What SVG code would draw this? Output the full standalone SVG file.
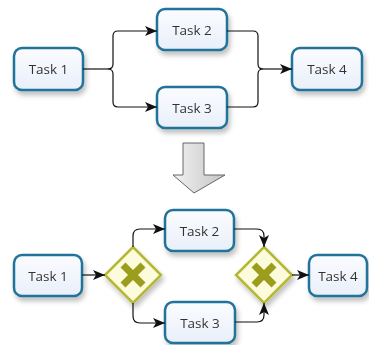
<svg xmlns="http://www.w3.org/2000/svg" width="369" height="345" viewBox="0 0 369 345">
<defs>
<linearGradient id="boxfill" x1="0" y1="0" x2="0" y2="1">
<stop offset="0" stop-color="#fbfcff"/>
<stop offset="1" stop-color="#e9eff9"/>
</linearGradient>
<linearGradient id="arrowfill" x1="0" y1="0" x2="1" y2="0">
<stop offset="0" stop-color="#f2f2f2"/>
<stop offset="1" stop-color="#c4c4c4"/>
</linearGradient>
<filter id="shadow" x="-20%" y="-20%" width="150%" height="160%">
<feGaussianBlur in="SourceAlpha" stdDeviation="2.5"/>
<feOffset dx="2" dy="4" result="b"/>
<feComponentTransfer><feFuncA type="linear" slope="0.25"/></feComponentTransfer>
<feMerge><feMergeNode/><feMergeNode in="SourceGraphic"/></feMerge>
</filter>
<marker id="ah" viewBox="0 0 12 10" refX="12" refY="5" markerWidth="12" markerHeight="10" markerUnits="userSpaceOnUse" orient="auto">
<path d="M0,0 L12,5 L0,10 L3,5 Z" fill="#111"/>
</marker>
</defs>
<style>
.box{fill:url(#boxfill);stroke:#22739a;stroke-width:2.5}
.lbl{font-family:"Open Sans","Noto Sans",sans-serif;font-size:13.5px;fill:#333;text-anchor:middle;dominant-baseline:central}
.con{fill:none;stroke:#111;stroke-width:1.2}
.gw{fill:#fcfcdc;stroke:#b5b735;stroke-width:2.5}
.gx{stroke:#9c9d1c;stroke-width:7;stroke-linecap:butt}
</style>
<g id="t1a" filter="url(#shadow)"><rect class="box" x="14" y="48" width="69" height="42" rx="8"/><text class="lbl" x="48.5" y="69">Task 1</text></g>
<g id="t2a" filter="url(#shadow)"><rect class="box" x="157" y="9" width="70" height="41" rx="8"/><text class="lbl" x="192" y="29.5">Task 2</text></g>
<g id="t3a" filter="url(#shadow)"><rect class="box" x="157" y="87" width="70" height="41" rx="8"/><text class="lbl" x="192" y="107.5">Task 3</text></g>
<g id="t4a" filter="url(#shadow)"><rect class="box" x="292" y="48" width="70" height="42" rx="8"/><text class="lbl" x="327" y="69">Task 4</text></g>
<g id="t1b" filter="url(#shadow)"><rect class="box" x="14" y="255" width="68" height="41" rx="8"/><text class="lbl" x="48" y="275.5">Task 1</text></g>
<g id="t2b" filter="url(#shadow)"><rect class="box" x="165" y="210" width="69" height="41" rx="8"/><text class="lbl" x="199.5" y="230.5">Task 2</text></g>
<g id="t3b" filter="url(#shadow)"><rect class="box" x="165" y="302" width="70" height="41" rx="8"/><text class="lbl" x="200" y="322.5">Task 3</text></g>
<g id="t4b" filter="url(#shadow)"><rect class="box" x="309" y="255" width="58" height="41" rx="8"/><text class="lbl" x="338" y="275.5">Task 4</text></g>
<g id="g1" filter="url(#shadow)"><path class="gw" d="M133,247 L161,275 L133,303 L105,275 Z"/><path class="gx" d="M123,265 L143,285 M143,265 L123,285"/></g>
<g id="g2" filter="url(#shadow)"><path class="gw" d="M264,247 L292,275 L264,303 L236,275 Z"/><path class="gx" d="M254,265 L274,285 M274,265 L254,285"/></g>
<g id="bigarrow"><path d="M183,143 L204,143 L204,175 L225,175 L194,193 L173,175 L183,175 Z" fill="url(#arrowfill)" stroke="#666" stroke-width="1"/></g>
<g id="connectors">
<path class="con" d="M83,69 L108,69"/>
<path class="con" d="M108,69 Q113,69 113,64 L113,36 Q113,31 118,31 L157,31" marker-end="url(#ah)"/>
<path class="con" d="M108,69 Q113,69 113,74 L113,102 Q113,107 118,107 L157,107" marker-end="url(#ah)"/>
<path class="con" d="M227,31 L253,31 Q258,31 258,36 L258,64 Q258,69 263,69"/>
<path class="con" d="M227,107 L253,107 Q258,107 258,102 L258,74 Q258,69 263,69"/>
<path class="con" d="M263,69 L292,69" marker-end="url(#ah)"/>
<path class="con" d="M82,275 L105,275" marker-end="url(#ah)"/>
<path class="con" d="M133,247 L133,236 Q133,229 140,229 L165,229" marker-end="url(#ah)"/>
<path class="con" d="M133,303 L133,316 Q133,323 140,323 L165,323" marker-end="url(#ah)"/>
<path class="con" d="M234,229 L257,229 Q264,229 264,236 L264,247" marker-end="url(#ah)"/>
<path class="con" d="M235,322 L257,322 Q264,322 264,315 L264,303" marker-end="url(#ah)"/>
<path class="con" d="M292,275 L309,275" marker-end="url(#ah)"/>
</g>
</svg>
